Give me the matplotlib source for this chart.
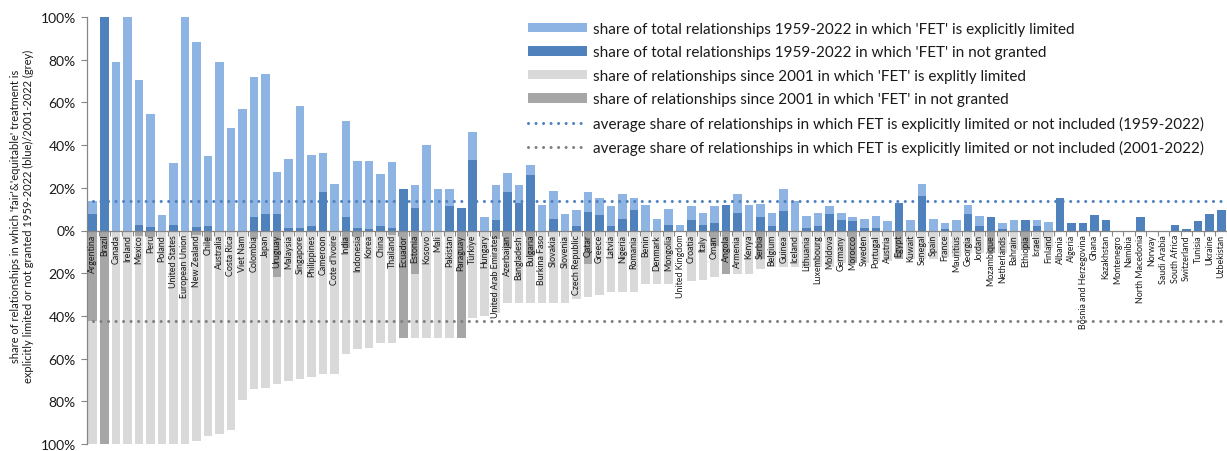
import matplotlib
matplotlib.use("Agg")
import matplotlib.pyplot as plt
import numpy as np
from matplotlib.patches import Patch
from matplotlib.lines import Line2D

plt.rcParams['font.family'] = ['Lato', 'DejaVu Sans']

countries = [
    "Argentina", "Brazil", "Canada", "Ireland", "Mexico", "Peru", "Poland", "United States",
    "European Union", "New Zealand", "Chile", "Australia", "Costa Rica", "Viet Nam", "Colombia",
    "Japan", "Uruguay", "Malaysia", "Singapore", "Philippines", "Cameroon", "Cote d'Ivoire",
    "India", "Indonesia", "Korea", "China", "Thailand", "Ecuador", "Estonia", "Kosovo", "Mali",
    "Pakistan", "Paraguay", "Türkiye", "Hungary", "United Arab Emirates", "Azerbaijan",
    "Bangladesh", "Bulgaria", "Burkina Faso", "Slovakia", "Slovenia", "Czech Republic", "Qatar",
    "Greece", "Latvia", "Nigeria", "Romania", "Benin", "Denmark", "Mongolia", "United Kingdom",
    "Croatia", "Italy", "Oman", "Angola", "Armenia", "Kenya", "Serbia", "Belgium", "Guinea",
    "Iceland", "Lithuania", "Luxembourg", "Moldova", "Germany", "Morocco", "Sweden", "Portugal",
    "Austria", "Egypt", "Kuwait", "Senegal", "Spain", "France", "Mauritius", "Georgia", "Jordan",
    "Mozambique", "Netherlands", "Bahrain", "Ethiopia", "Israel", "Finland", "Albania", "Algeria",
    "Bosnia and Herzegovina", "Ghana", "Kazakhstan", "Montenegro", "Namibia", "North Macedonia",
    "Norway", "Saudi Arabia", "South Africa", "Switzerland", "Tunisia", "Ukraine", "Uzbekistan",
]

# 1959-2022: share in which FET is not granted (dark blue)
not_granted_1959 = [
    7.5, 100, 0, 0, 2.8, 1.5, 0, 2.8, 0, 1.5, 2.3, 0, 0, 0, 6.5, 7.9, 7.9, 1.4, 1.1, 1.9,
    17.9, 0, 6.5, 1.0, 0.6, 1.9, 1.1, 19.6, 10.4, 0, 0, 11.5, 10.7, 32.9, 0, 5.0, 17.9, 12.8,
    26.2, 0, 5.3, 0, 2.0, 8.6, 7.2, 1.9, 5.3, 9.8, 0, 0, 2.8, 0, 4.8, 2.8, 3.6, 12.1, 8.3, 0,
    6.2, 1.9, 9.3, 0, 1.4, 1.9, 7.5, 5.0, 4.5, 1.1, 1.4, 0, 13.1, 0, 16.0, 0, 0.6, 0, 7.9, 1.9,
    6.4, 0.6, 0, 5.1, 1.9, 0, 15.3, 3.7, 3.6, 7.3, 4.7, 0, 0, 6.5, 0, 0, 2.5, 0.6, 4.4, 7.9, 9.5,
]
# 1959-2022: share in which FET is explicitly limited (light blue)
limited_1959 = [
    6.5, 0, 79, 100, 67.6, 53, 7.2, 28.7, 100, 87, 32.7, 78.7, 48, 56.7, 65.6, 65.5, 19.5,
    31.9, 57.3, 33.3, 18.2, 22, 44.9, 31.6, 32, 24.7, 31, 0, 10.8, 39.9, 19.6, 8.1, 0, 13.2,
    6.5, 16.3, 9.1, 8.5, 4.5, 12.1, 13.2, 7.6, 7.8, 9.3, 7.8, 9.5, 12, 5.5, 12.1, 5.5, 7.3,
    2.5, 6.6, 5.3, 8.1, 0, 8.8, 12.1, 6.4, 6.5, 10.3, 13.9, 5.6, 6.5, 4.2, 3.1, 1.9, 4.4, 5.6,
    4.4, 0, 5.1, 6.0, 5.6, 3.1, 5.1, 4.1, 5.0, 0, 3.1, 5.1, 0, 2.8, 4.0,
    0, 0, 0, 0, 0, 0, 0, 0, 0, 0, 0, 0, 0, 0, 0,
]
# since 2001: share in which FET is not granted (dark grey)
not_granted_2001 = [
    42.4, 100, 0, 0, 2.6, 3.0, 0, 0, 0, 2.2, 5.0, 0, 0, 0, 4.0, 0, 21.7, 0, 0, 0, 0, 0, 8.0,
    3.0, 0, 0, 2.3, 50.3, 20.2, 0, 0, 0, 50.3, 0, 0, 4.0, 8.0, 0, 12.0, 0, 0, 0, 0, 15.6, 0,
    0, 0, 0, 0, 0, 0, 0, 0, 0, 7.3, 20.2, 0, 0, 13.5, 0, 0, 0, 0, 0, 0, 0, 15.4, 0, 0, 0,
    13.3, 0, 0, 0, 0, 0, 0, 0, 10.5, 0, 0, 9.0, 0, 0,
    0, 0, 0, 0, 0, 0, 0, 0, 0, 0, 0, 0, 0, 0, 0,
]
# since 2001: share in which FET is explicitly limited (light grey)
limited_2001 = [
    57.6, 0, 100, 100, 97.4, 97, 100, 100, 100, 96.2, 91.4, 95.3, 93.3, 79.4, 70.3, 73.7,
    50.3, 70.7, 69.6, 68.5, 67, 67, 50, 52.3, 55, 52.6, 50.3, 0, 30.1, 50.3, 50.3, 50.3, 0,
    40.8, 40, 34.8, 25.8, 33.8, 21.8, 33.8, 33.8, 33.8, 31.9, 15.6, 30.4, 28.8, 28.8, 28.8,
    25.2, 25.2, 25.2, 0, 23.7, 23.4, 14.3, 0, 20.2, 20.2, 4.4, 16.9, 16.9, 16.9, 16.9, 16.9,
    16.9, 15.4, 0, 15.4, 14.3, 14.3, 0, 13.3, 13.3, 13.3, 12.5, 12.5, 10.5, 10.5, 0, 10.5,
    9.0, 0, 9.0, 8.0,
    0, 0, 0, 0, 0, 0, 0, 0, 0, 0, 0, 0, 0, 0, 0,
]
avg_1959 = 13.7
avg_2001 = 42.4

legend_labels = [
    "share of total relationships 1959-2022 in which 'FET' is explicitly limited",
    "share of total relationships 1959-2022 in which 'FET' in not granted",
    "share of relationships since 2001 in which 'FET' is explitly limited",
    "share of relationships since 2001 in which 'FET' in not granted",
    "average share of relationships in which FET is explicitly limited or not included (1959-2022)",
    "average share of relationships in which FET is explicitly limited or not included (2001-2022)",
]
ylabel = ("share of relationships in which 'fair'&'equitable' treatment is\n"
          "explicitly limited or not granted 1959-2022 (blue)/2001-2022 (grey)")

C_LBLUE = "#8EB4E3"
C_DBLUE = "#4F81BD"
C_LGREY = "#D9D9D9"
C_DGREY = "#A6A6A6"
C_AXIS = "#868686"

W, H = 1227, 452
fig = plt.figure(figsize=(W / 100, H / 100), dpi=100)
ax = fig.add_axes([87 / W, 1 - 445 / H, (W - 87) / W, 427 / H])

n = len(countries)
x = np.arange(n)
ng59 = np.array(not_granted_1959)
lim59 = np.array(limited_1959)
ng01 = np.array(not_granted_2001)
lim01 = np.array(limited_2001)
bw = 0.74

ax.bar(x, ng59, width=bw, color=C_DBLUE, linewidth=0, zorder=2)
ax.bar(x, lim59, width=bw, bottom=ng59, color=C_LBLUE, linewidth=0, zorder=2)
ax.bar(x, -ng01, width=bw, color=C_DGREY, linewidth=0, zorder=2)
ax.bar(x, -lim01, width=bw, bottom=-ng01, color=C_LGREY, linewidth=0, zorder=2)

dot = (0, (0.01, 2.45))
ax.plot(x, [avg_1959] * n, color=C_DBLUE, lw=2.2, linestyle=dot,
        dash_capstyle='round', zorder=3)
ax.plot(x, [-avg_2001] * n, color="#808080", lw=2.2, linestyle=dot,
        dash_capstyle='round', zorder=3)

ax.set_xlim(-0.5, n - 0.5)
ax.set_ylim(-100, 100)
yt = np.arange(-100, 101, 20)
ax.set_yticks(yt)
ax.set_yticklabels([f"{abs(v)}%" for v in yt], fontsize=10, color="#1a1a1a")
ax.tick_params(axis='y', direction='out', length=4, width=0.8, color=C_AXIS, pad=4)

for s in ['top', 'right']:
    ax.spines[s].set_visible(False)
ax.spines['left'].set_color(C_AXIS)
ax.spines['left'].set_linewidth(0.9)
ax.spines['bottom'].set_position(('data', 0))
ax.spines['bottom'].set_color(C_AXIS)
ax.spines['bottom'].set_linewidth(0.9)
ax.spines['bottom'].set_zorder(4)
ax.set_xticks(np.arange(-0.5, n, 1.0))
ax.set_xticklabels([])
ax.tick_params(axis='x', direction='out', length=3.5, width=0.8, color=C_AXIS)

for i, name in enumerate(countries):
    ax.text(i, -1.6, name, rotation=90, ha='center', va='top', fontsize=6.4,
            color="#1a1a1a", zorder=5)

fig.text(22 / W, 1 - 216 / H, ylabel, rotation=90, ha='center', va='center',
         fontsize=8, linespacing=1.3, multialignment='center', color="#1a1a1a")

handles = [
    Patch(facecolor=C_LBLUE, edgecolor='none'),
    Patch(facecolor=C_DBLUE, edgecolor='none'),
    Patch(facecolor=C_LGREY, edgecolor='none'),
    Patch(facecolor=C_DGREY, edgecolor='none'),
    Line2D([], [], color=C_DBLUE, lw=2.2, linestyle=dot, dash_capstyle='round'),
    Line2D([], [], color="#808080", lw=2.2, linestyle=dot, dash_capstyle='round'),
]
fig.legend(handles, legend_labels, loc='upper left', bbox_to_anchor=(528 / W, 1 - 23 / H),
           frameon=False, fontsize=11, handlelength=3.85, handleheight=0.6,
           handletextpad=0.4, labelspacing=0.62, borderpad=0, borderaxespad=0,
           labelcolor="#1a1a1a")

fig.savefig("out.png", dpi=100)
